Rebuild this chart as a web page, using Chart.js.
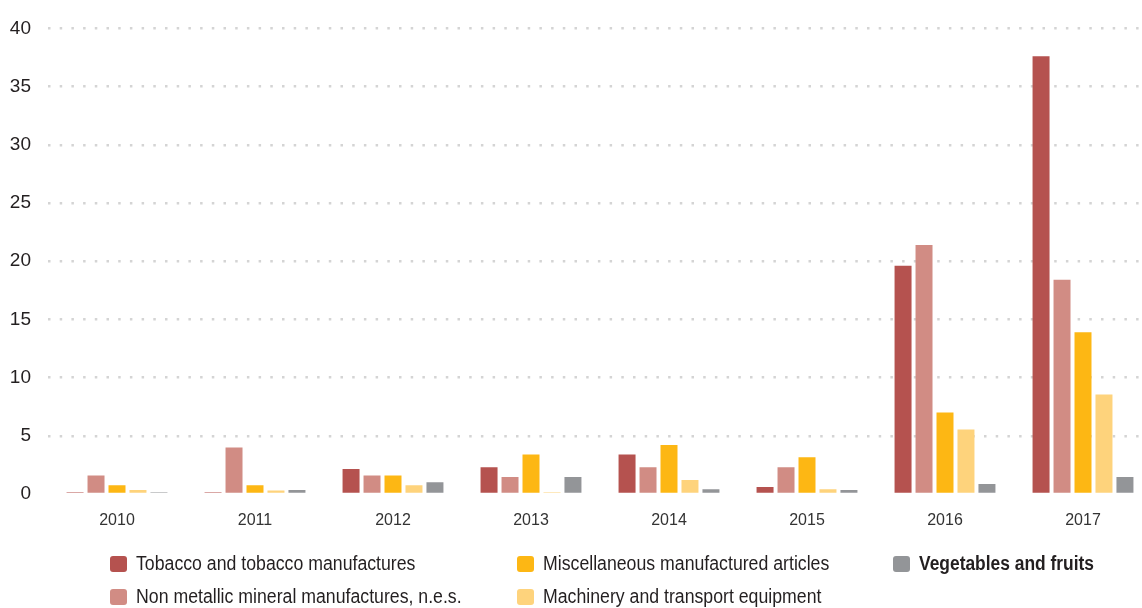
<!DOCTYPE html>
<html>
<head>
<meta charset="utf-8">
<script src="https://cdn.jsdelivr.net/npm/chart.js@4.4.1/dist/chart.umd.min.js"></script>
<style>
  html, body { margin:0; padding:0; background:#fff; overflow:hidden; }
  #wrap { position:relative; width:1152px; height:608px; }
  #chartBox { position:absolute; left:0; top:0; width:1152px; height:530px; }
  #legend { position:absolute; left:0; top:0; width:1142px; height:608px; pointer-events:none;
    font-family:'Liberation Sans Narrow','Arial Narrow','Liberation Sans',sans-serif; font-size:20px; color:#231f20; }
  .item { position:absolute; display:flex; align-items:center; white-space:nowrap; }
  .sw { width:17px; height:16px; border-radius:3px; margin-right:9px; flex:none; }
  .tx { display:inline-block; transform:scaleX(0.885); transform-origin:0 50%; }
  .bold .tx { transform:scaleX(0.87); }
</style>
</head>
<body>
<div id="wrap">
  <div id="chartBox"><canvas id="chart"></canvas></div>
  <div id="legend"></div>
</div>
<script>
// Datos
const years = ['2010','2011','2012','2013','2014','2015','2016','2017'];

const tobacco      = [0.15, 0.15, 2.15, 2.3, 3.4, 0.6, 19.6, 37.6];
const nonMetallic  = [1.6, 4.0, 1.6, 1.45, 2.3, 2.3, 21.4, 18.4];
const miscArticles = [0.75, 0.75, 1.6, 3.4, 4.2, 3.15, 7.0, 13.9];
const machinery    = [0.35, 0.3, 0.75, 0.15, 1.2, 0.4, 5.55, 8.55];
const vegetables   = [0.15, 0.35, 1.0, 1.45, 0.4, 0.35, 0.85, 1.45];

const yTicks = [0, 5, 10, 15, 20, 25, 30, 35, 40];

const FONT = "'Liberation Sans Narrow','Arial Narrow','Liberation Sans',sans-serif";

const series = [
  { label:'Tobacco and tobacco manufactures',          data:tobacco,      color:'#b5524f' },
  { label:'Non metallic mineral manufactures, n.e.s.', data:nonMetallic,  color:'#d18c84' },
  { label:'Miscellaneous manufactured articles',       data:miscArticles, color:'#fdb714' },
  { label:'Machinery and transport equipment',         data:machinery,    color:'#fed37c' },
  { label:'Vegetables and fruits',                     data:vegetables,   color:'#939598' }
];

const ctx = document.getElementById('chart').getContext('2d');
const chart = new Chart(ctx, {
  type: 'bar',
  data: {
    labels: years,
    datasets: series.map(s => ({
      label: s.label,
      data: s.data,
      backgroundColor: s.color,
      borderWidth: 0,
      categoryPercentage: 0.76,
      barPercentage: 0.81
    }))
  },
  options: {
    responsive: true,
    maintainAspectRatio: false,
    animation: false,
    layout: { padding: { top:26, left:0, right:0, bottom:0 } },
    plugins: { legend:{ display:false }, tooltip:{ enabled:false } },
    scales: {
      x: {
        grid: { display:false },
        border: { display:false },
        ticks: { color:'#333', font:{ family:FONT, size:16 }, padding:9 },
        afterFit: s => { s.height = 36; }
      },
      y: {
        min: 0, max: 40,
        afterBuildTicks: s => { s.ticks = yTicks.map(v => ({ value:v })); },
        afterFit: s => { s.width = 48; },
        border: { display:false, dash:[2.5, 9.2] },
        grid: {
          drawTicks: false,
          lineWidth: 2.5,
          color: c => c.tick && c.tick.value === 0 ? 'rgba(0,0,0,0)' : '#d4d4d4'
        },
        ticks: { color:'#231f20', font:{ family:FONT, size:19 }, padding:17 }
      }
    }
  }
});

// Leyenda HTML (orden por columnas)
const legendOrder = [0, 2, 4, 1, 3];
const legendPos = [
  { left:110, top:555 }, { left:517, top:555 }, { left:893, top:555 },
  { left:110, top:588 }, { left:517, top:588 }
];
const legendEl = document.getElementById('legend');
legendOrder.forEach((idx, i) => {
  const ds = chart.data.datasets[idx];
  const it = document.createElement('div');
  it.className = 'item';
  it.style.left = legendPos[i].left + 'px';
  it.style.top = (legendPos[i].top - 3) + 'px';
  if (idx === 4) { it.style.fontWeight = 'bold'; it.classList.add('bold'); }
  const sw = document.createElement('span');
  sw.className = 'sw';
  sw.style.background = ds.backgroundColor;
  const tx = document.createElement('span');
  tx.className = 'tx';
  tx.textContent = ds.label;
  it.appendChild(sw); it.appendChild(tx);
  legendEl.appendChild(it);
});
</script>
</body>
</html>
